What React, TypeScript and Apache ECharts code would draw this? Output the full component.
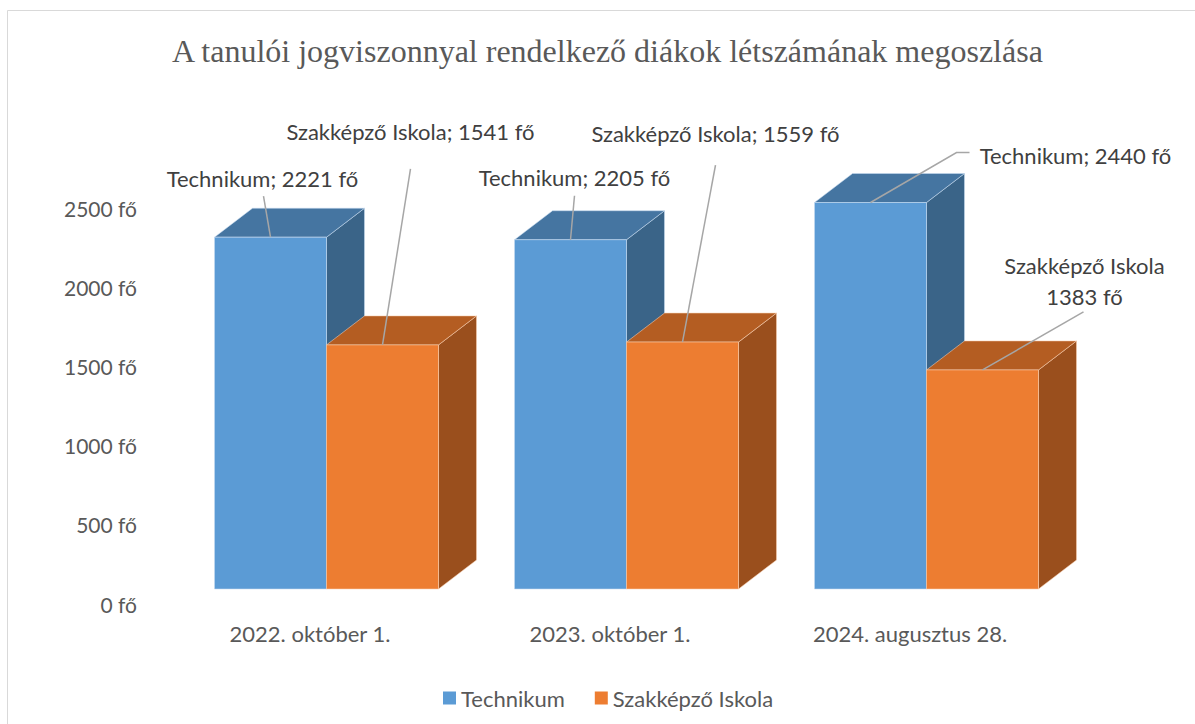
import React, { useEffect, useRef } from "react";
import * as echarts from "echarts";

// ---------- data ----------
const categories = ["2022. október 1.", "2023. október 1.", "2024. augusztus 28."];
const seriesNames = ["Technikum", "Szakképző Iskola"];
const technikum = [2221, 2205, 2440];
const szakkepzo = [1541, 1559, 1383];
const axisMin = 0;
const axisMax = 2500;
const axisStep = 500;
const unit = "fő";

// ---------- layout / style ----------
const W = 112; // front face width of one bar
const DX = 38; // depth offset x
const DY = -29; // depth offset y
const FONT = "Lato, 'Noto Sans', sans-serif";
const LABEL_SIZE = 22;
const AXIS_SIZE = 21;

const palettes = [
  { front: "#5B9BD5", top: "#4575A1", side: "#3A6488", edge: "rgba(200,220,240,0.55)" },
  { front: "#ED7D31", top: "#B45D22", side: "#9A4F1D", edge: "rgba(250,210,180,0.55)" },
];

// label placement relative to the anchor (centre of the front top edge)
type LabelPos = { tx: number; ty: number; line: number[][]; sep: string };
const labelPlacement: LabelPos[][] = [
  [
    { tx: -8, ty: -59, line: [[-7, -41]], sep: "; " },
    { tx: 4, ty: -62, line: [[4, -44]], sep: "; " },
    { tx: 205, ty: -47, line: [[86, -50], [99, -50]], sep: "; " },
  ],
  [
    { tx: 28, ty: -213, line: [[28, -176]], sep: "; " },
    { tx: 33, ty: -209, line: [[33, -177]], sep: "; " },
    { tx: 102, ty: -89, line: [[101, -58]], sep: "\n" },
  ],
];

function makeRenderItem(sIdx: number) {
  return (params: any, api: any) => {
    const idx = api.value(0);
    const val = api.value(1);
    const topPt = api.coord([idx, val]);
    const basePt = api.coord([idx, 0]);
    const x0 = sIdx === 0 ? topPt[0] - W : topPt[0];
    const x1 = x0 + W;
    const yT = topPt[1];
    const yB = basePt[1];
    const p = palettes[sIdx];
    const ax = x0 + W / 2;
    const ay = yT;
    const lp = labelPlacement[sIdx][idx];
    const name = seriesNames[sIdx];
    const pts = [[ax, ay], ...lp.line.map((q) => [ax + q[0], ay + q[1]])];
    return {
      type: "group",
      children: [
        {
          type: "polygon",
          shape: { points: [[x1, yT], [x1 + DX, yT + DY], [x1 + DX, yB + DY], [x1, yB]] },
          style: { fill: p.side, stroke: p.edge, lineWidth: 1 },
        },
        {
          type: "polygon",
          shape: { points: [[x0, yT], [x1, yT], [x1 + DX, yT + DY], [x0 + DX, yT + DY]] },
          style: { fill: p.top, stroke: p.edge, lineWidth: 1 },
        },
        {
          type: "rect",
          shape: { x: x0, y: yT, width: W, height: yB - yT },
          style: { fill: p.front, stroke: p.edge, lineWidth: 1 },
        },
        {
          type: "polyline",
          shape: { points: pts },
          style: { fill: null, stroke: "#A6A6A6", lineWidth: 1.5 },
          z2: 10,
        },
        {
          type: "text",
          x: ax + lp.tx,
          y: ay + lp.ty,
          style: {
            text: `${name}${lp.sep}${val} ${unit}`,
            fill: "#404040",
            font: `${LABEL_SIZE}px ${FONT}`,
            align: "center",
            verticalAlign: "middle",
            lineHeight: 31,
          },
          z2: 11,
        },
      ],
    };
  };
}

export default function App() {
  const ref = useRef<HTMLDivElement>(null);
  useEffect(() => {
    if (!ref.current) return;
    const chart = echarts.init(ref.current, null, { renderer: "svg" });
    const seriesData = [technikum, szakkepzo];
    chart.setOption({
      animation: false,
      backgroundColor: "#ffffff",
      title: {
        text: "A tanulói jogviszonnyal rendelkező diákok létszámának megoszlása",
        left: 167,
        top: 30,
        textStyle: {
          fontFamily: "'Liberation Serif', 'DejaVu Serif', serif",
          fontSize: 32,
          fontWeight: "normal",
          color: "#595959",
        },
      },
      graphic: [
        {
          type: "rect",
          shape: { x: 7.5, y: 10.5, width: 1200, height: 740 },
          style: { fill: "none", stroke: "#D9D9D9", lineWidth: 1 },
          silent: true,
        },
      ],
      legend: {
        data: seriesNames,
        left: 438,
        top: 682,
        itemWidth: 13,
        itemHeight: 13,
        itemGap: 30,
        icon: "rect",
        textStyle: { fontFamily: FONT, fontSize: LABEL_SIZE, color: "#595959" },
      },
      grid: [
        { left: 160, right: 135, top: 208, bottom: 120 },
        { left: 176.5, right: 118.5, top: 193, bottom: 135 },
      ],
      xAxis: [
        {
          type: "category",
          gridIndex: 0,
          data: categories,
          axisLine: { show: false },
          axisTick: { show: false },
          axisLabel: { margin: 18, color: "#595959", fontFamily: FONT, fontSize: LABEL_SIZE },
        },
        {
          type: "category",
          gridIndex: 1,
          data: categories,
          show: false,
        },
      ],
      yAxis: [
        {
          type: "value",
          gridIndex: 0,
          min: axisMin,
          max: axisMax,
          interval: axisStep,
          axisLine: { show: false },
          axisTick: { show: false },
          splitLine: { show: false },
          axisLabel: {
            margin: 23,
            color: "#595959",
            fontFamily: FONT,
            fontSize: AXIS_SIZE,
            formatter: (v: number) => `${v} ${unit}`,
          },
        },
        {
          type: "value",
          gridIndex: 1,
          min: axisMin,
          max: axisMax,
          interval: axisStep,
          show: false,
        },
      ],
      series: seriesNames.map((name, sIdx) => ({
        type: "custom",
        name,
        xAxisIndex: 1,
        yAxisIndex: 1,
        itemStyle: { color: palettes[sIdx].front },
        renderItem: makeRenderItem(sIdx),
        encode: { x: 0, y: 1 },
        data: seriesData[sIdx].map((v, i) => [i, v]),
        z: 2 + sIdx,
      })),
    });
    return () => chart.dispose();
  }, []);
  return (
    <div
      ref={ref}
      style={{ position: "absolute", left: 0, top: 0, width: 1195, height: 724 }}
    />
  );
}
